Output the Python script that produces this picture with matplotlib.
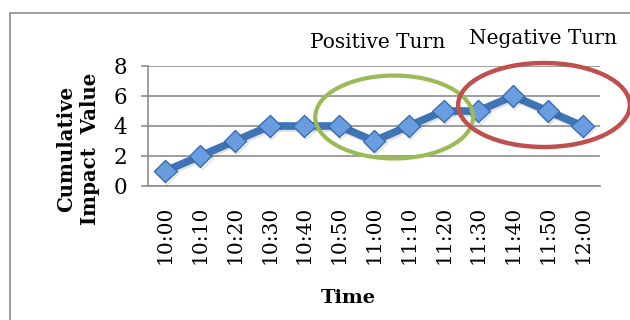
import matplotlib
matplotlib.use("Agg")
import matplotlib.pyplot as plt
import matplotlib.patheffects as pe
from matplotlib.patches import Ellipse, Rectangle

times = ["10:00", "10:10", "10:20", "10:30", "10:40", "10:50", "11:00",
         "11:10", "11:20", "11:30", "11:40", "11:50", "12:00"]
impact = [1, 2, 3, 4, 4, 4, 3, 4, 5, 5, 6, 5, 4]
y_ticks = [0, 2, 4, 6, 8]

plt.rcParams["font.family"] = ["DejaVu Serif"]

fig = plt.figure(figsize=(6.3, 3.2), dpi=100)
W, H = 630, 320

# outer chart frame
frame = Rectangle((10 / W, -0.1), 1.0, 1.1 - 13 / H, transform=fig.transFigure,
                  fill=False, edgecolor="#8c8c8c", linewidth=1.2)
fig.add_artist(frame)

ax = fig.add_axes([148 / W, 1 - 186 / H, 452 / W, 120 / H])
x = list(range(len(times)))

grid_c = "#8c8c8c"
ax.set_ylim(0, 8)
ax.set_xlim(-0.5, len(times) - 0.5)
ax.set_yticks(y_ticks)
ax.yaxis.grid(True, color=grid_c, linewidth=1.2)
ax.set_axisbelow(True)
for s in ["top", "right"]:
    ax.spines[s].set_visible(False)
for s in ["left", "bottom"]:
    ax.spines[s].set_color(grid_c)
    ax.spines[s].set_linewidth(1.2)
ax.tick_params(axis="y", length=5, width=1.2, color=grid_c, pad=10, labelsize=15.5)
ax.tick_params(axis="x", length=0, pad=14, labelsize=14.5)
ax.set_xticks(x)
ax.set_xticklabels(times, rotation=90)

ax.plot(x, impact, color="#3f74b6", linewidth=5.5, marker="D", markersize=11.5,
        markerfacecolor="#6a9de0", markeredgecolor="#3a6db0", markeredgewidth=1.0,
        clip_on=False, zorder=3,
        path_effects=[pe.SimpleLineShadow(offset=(1, -1.5), alpha=0.12), pe.Normal()])

# highlighted regions
green = Ellipse((6.58, 4.6), 4.54, 5.53, fill=False, edgecolor="#9bbb59",
                linewidth=3.0, clip_on=False, zorder=4)
red = Ellipse((10.89, 5.4), 4.94, 5.6, fill=False, edgecolor="#c0504d",
              linewidth=3.2, clip_on=False, zorder=4)
ax.add_patch(green)
ax.add_patch(red)

fig.text(378 / W, 1 - 42 / H, "Positive Turn", ha="center", va="center", fontsize=14.5)
fig.text(543 / W, 1 - 38 / H, "Negative Turn", ha="center", va="center", fontsize=14.5)

fig.text(78 / W, 1 - 149 / H, "Cumulative\nImpact  Value", rotation=90,
         ha="center", va="center", multialignment="center",
         fontsize=14.2, fontweight="bold", linespacing=1.2)
fig.text(348 / W, 1 - 298 / H, "Time", ha="center", va="center",
         fontsize=14, fontweight="bold")

fig.savefig("out.png", dpi=100)
